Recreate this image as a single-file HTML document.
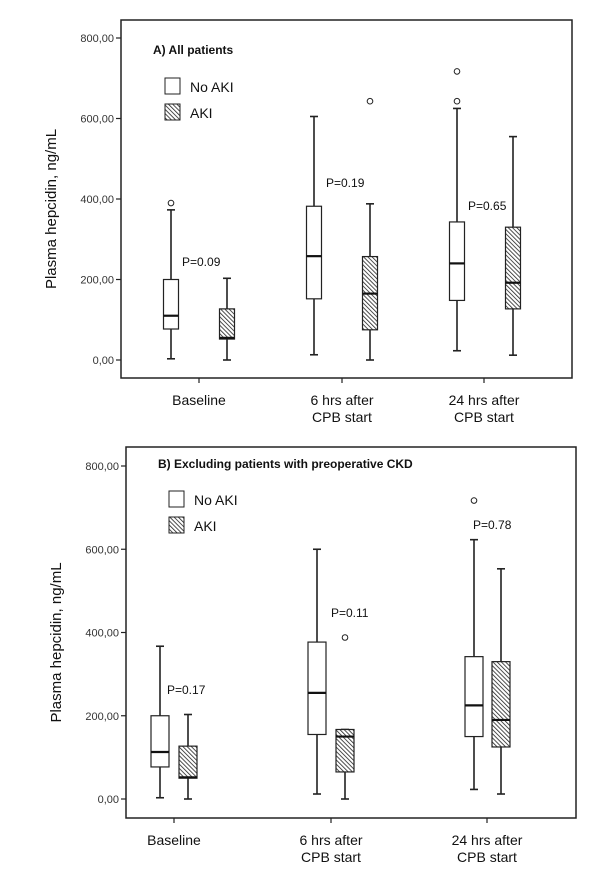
<!DOCTYPE html>
<html><head><meta charset="utf-8">
<style>
html,body{margin:0;padding:0;background:#fff;}
svg{display:block;font-family:"Liberation Sans",sans-serif;}
</style></head>
<body>
<svg id="chart" width="600" height="896" viewBox="0 0 600 896">
<defs>
<pattern id="hatch" patternUnits="userSpaceOnUse" width="3" height="3" patternTransform="rotate(-45)">
<rect width="3" height="3" fill="#fff"/><line x1="0" y1="0" x2="0" y2="3" stroke="#222" stroke-width="1.6"/>
</pattern>
</defs>
</svg>
<script>
const categories = ["Baseline", "6 hrs after|CPB start", "24 hrs after|CPB start"];
const yTicks = [0, 200, 400, 600, 800];
const yTickLabels = ["0,00", "200,00", "400,00", "600,00", "800,00"];
// [whiskerLow, q1, median, q3, whiskerHigh] per category
const aNoAki = [[3,77,110,200,373],[13,152,258,382,605],[23,148,240,343,625]];
const aAki   = [[0,52,55,127,203],[0,75,165,257,388],[12,127,192,330,555]];
const aNoAkiOut = [[390],[],[643,717]];
const aAkiOut   = [[],[643],[]];
const aPvals = ["P=0.09","P=0.19","P=0.65"];
const bNoAki = [[3,77,113,200,367],[12,155,255,377,600],[23,150,225,342,623]];
const bAki   = [[0,50,52,127,203],[0,65,150,167,167],[12,125,190,330,553]];
const bNoAkiOut = [[],[],[717]];
const bAkiOut   = [[],[388],[]];
const bPvals = ["P=0.17","P=0.11","P=0.78"];

const svg = document.getElementById('chart');
const NS = 'http://www.w3.org/2000/svg';
function mk(tag, attrs, parent){const e=document.createElementNS(NS,tag);for(const k in attrs)e.setAttribute(k,attrs[k]);(parent||svg).appendChild(e);return e;}

function panel(cfg){
  const g = mk('g',{});
  
  
  const y = v => cfg.y0 + (cfg.y800 - cfg.y0) * v / 800;
  const frame = mk('rect',{x:cfg.left,y:cfg.top,width:cfg.right-cfg.left,height:cfg.bottom-cfg.top,fill:'none',stroke:'#222','stroke-width':1.5},g);
  
  
  yTicks.forEach((v,i)=>{
    mk('line',{x1:cfg.left-5,x2:cfg.left,y1:y(v),y2:y(v),stroke:'#222','stroke-width':1.2},g);
    const t = mk('text',{x:cfg.left-7,y:y(v)+4,'text-anchor':'end','font-size':11,fill:'#333'},g);
    t.textContent = yTickLabels[i];
    
    
  });
  const yt = mk('text',{transform:`translate(${cfg.left-65},${(cfg.top+cfg.bottom)/2+10}) rotate(-90)`,'text-anchor':'middle','font-size':15,fill:'#111'},g);
  yt.textContent = 'Plasma hepcidin, ng/mL';
  
  
  const title = mk('text',{x:cfg.titleX,y:cfg.titleY,'font-size':cfg.titleSize,'font-weight':'bold',fill:'#111'},g);
  title.textContent = cfg.title;
  
  
  [['No AKI','#fff',0],['AKI','url(#hatch)',1]].forEach(([lab,fill,i])=>{
    const r = mk('rect',{x:cfg.legX,y:cfg.legY+i*26,width:15,height:16,fill:fill,stroke:'#222','stroke-width':1},g);
    
    
    const t = mk('text',{x:cfg.legX+25,y:cfg.legY+i*26+14,'font-size':14,fill:'#111'},g);
    t.textContent = lab;
    
    
  });
  categories.forEach((c,ci)=>{
    const cx = cfg.catX[ci];
    mk('line',{x1:cx,x2:cx,y1:cfg.bottom,y2:cfg.bottom+5,stroke:'#222','stroke-width':1.2},g);
    c.split('|').forEach((ln,li)=>{
      const t = mk('text',{x:cx,y:cfg.bottom+27+li*17,'text-anchor':'middle','font-size':14,fill:'#111'},g);
      t.textContent = ln;
      
      
    });
    [[cfg.noAki,cfg.noAkiOut,cfg.boxX[ci][0],'#fff','box-no-aki'],[cfg.aki,cfg.akiOut,cfg.boxX[ci][1],'url(#hatch)','box-aki']].forEach(([d,out,bx,fill,nm])=>{
      const s = d[ci], hw = cfg.bw/2;
      const bg = mk('g',{},g);
      
      
      mk('line',{x1:bx,x2:bx,y1:y(s[0]),y2:y(s[4]),stroke:'#222','stroke-width':1.6},bg);
      mk('line',{x1:bx-4,x2:bx+4,y1:y(s[0]),y2:y(s[0]),stroke:'#222','stroke-width':1.6},bg);
      mk('line',{x1:bx-4,x2:bx+4,y1:y(s[4]),y2:y(s[4]),stroke:'#222','stroke-width':1.6},bg);
      mk('rect',{x:bx-hw,y:y(s[3]),width:cfg.bw,height:y(s[1])-y(s[3]),fill:fill,stroke:'#222','stroke-width':1.2},bg);
      mk('line',{x1:bx-hw,x2:bx+hw,y1:y(s[2]),y2:y(s[2]),stroke:'#111','stroke-width':2.2},bg);
      out[ci].forEach(v=>{
        const o = mk('circle',{cx:bx,cy:y(v),r:2.8,fill:'#fff',stroke:'#222','stroke-width':1},bg);
        
        
      });
    });
    const p = mk('text',{x:cfg.pPos[ci][0],y:cfg.pPos[ci][1],'font-size':12,fill:'#111'},g);
    p.textContent = cfg.pvals[ci];
    
    
  });
}

panel({name:'panel-a-all-patients',left:121,right:572,top:20,bottom:378,y0:360,y800:38,
  title:'A) All patients',titleX:153,titleY:54,titleSize:12,legX:165,legY:78,
  catX:[199,342,484],boxX:[[171,227],[314,370],[457,513]],bw:15,
  noAki:aNoAki,aki:aAki,noAkiOut:aNoAkiOut,akiOut:aAkiOut,pvals:aPvals,
  pPos:[[182,266],[326,187],[468,210]]});
panel({name:'panel-b-excluding-ckd',left:126,right:576,top:447,bottom:818,y0:799,y800:466,
  title:'B) Excluding patients with preoperative CKD',titleX:158,titleY:468,titleSize:12,legX:169,legY:491,
  catX:[174,331,487],boxX:[[160,188],[317,345],[474,501]],bw:18,
  noAki:bNoAki,aki:bAki,noAkiOut:bNoAkiOut,akiOut:bAkiOut,pvals:bPvals,
  pPos:[[167,694],[331,617],[473,529]]});
</script>
</body></html>
